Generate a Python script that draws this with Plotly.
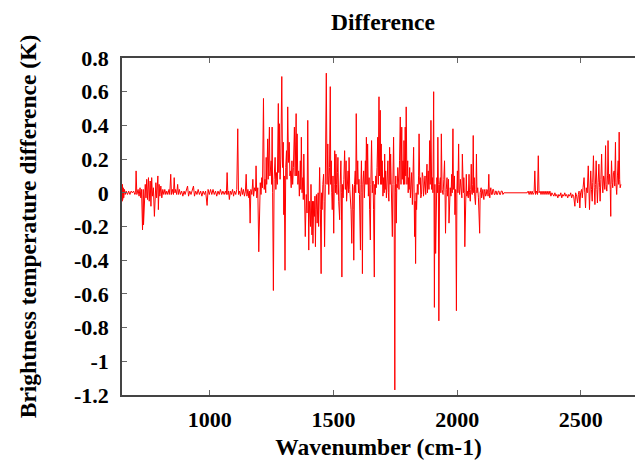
import plotly.graph_objects as go

# (wavenumber cm-1, brightness temperature difference K)
seg_longwave = [
    (645, 0.04), (646, -0.05), (647, 0.05), (648, -0.04), (650, 0.03), (652, -0.03), (655, 0.02),
    (658, -0.01), (662, 0.01), (667, -0.01), (672, 0.01), (677, -0.01), (682, 0.01), (687, 0.0),
    (692, 0.01), (697, -0.01), (700, 0.0), (702, 0.13), (705, -0.01), (710, 0.02), (714, -0.02),
    (718, 0.03), (721, -0.03), (724, 0.02), (728, -0.22), (731, 0.02), (732, -0.19), (736, 0.03),
    (739, 0.05), (742, -0.03), (745, 0.08), (748, -0.04), (752, 0.09), (755, -0.05), (759, 0.07),
    (762, -0.08), (765, 0.09), (768, -0.02), (772, 0.03), (776, -0.14), (779, 0.03), (782, 0.06),
    (785, -0.03), (790, 0.10), (792, -0.10), (795, 0.05), (798, -0.02), (802, 0.04), (806, -0.03),
    (810, 0.02), (814, -0.01), (818, 0.02), (822, -0.01), (826, 0.01), (830, -0.01), (835, 0.02),
    (838, -0.01), (842, 0.11), (845, -0.01), (849, 0.02), (853, -0.01), (856, 0.09), (859, 0.0),
    (862, 0.02), (866, -0.01), (870, 0.05), (873, -0.01), (877, 0.02), (881, -0.01), (886, 0.01),
    (891, -0.02), (896, 0.01), (900, -0.01), (905, 0.01), (910, 0.04), (914, -0.02), (919, 0.01),
    (924, -0.01), (929, 0.01), (934, 0.04), (938, -0.02), (943, 0.01), (948, -0.01), (953, 0.02),
    (958, -0.01), (963, 0.01), (968, -0.02), (973, 0.01), (978, -0.01), (983, 0.01), (989, -0.075),
    (993, 0.02), (998, -0.01), (1003, 0.02), (1008, -0.01), (1013, 0.02), (1018, -0.01),
    (1023, 0.01), (1028, -0.02), (1033, 0.01), (1038, -0.01), (1043, 0.02), (1048, -0.01),
    (1053, 0.01), (1058, -0.01), (1063, 0.01), (1067, -0.01), (1070, 0.12), (1073, -0.01),
    (1076, 0.01), (1079, -0.04), (1083, 0.01), (1087, -0.01), (1092, 0.02), (1096, -0.02),
    (1100, 0.01), (1105, -0.01), (1109, 0.02), (1113, 0.38), (1116, -0.01), (1120, 0.01),
    (1124, -0.02), (1128, 0.03), (1132, -0.01), (1136, 0.02), (1140, -0.02), (1144, 0.01),
    (1147, 0.11), (1150, -0.02), (1154, 0.02), (1158, -0.03), (1160, 0.01), (1163, -0.18),
    (1166, 0.02), (1170, -0.01), (1174, 0.08), (1177, -0.02), (1181, 0.03), (1185, 0.01),
]

seg_ozone_water = [
    (1187, 0.16), (1190, -0.03), (1194, 0.03), (1198, -0.35), (1201, 0.02), (1204, 0.06),
    (1207, -0.01), (1210, 0.09), (1213, 0.03), (1217, 0.56), (1220, 0.02), (1223, 0.08),
    (1226, 0.0), (1228, 0.21), (1230, 0.05), (1234, 0.32), (1236, 0.08), (1241, 0.39),
    (1243, 0.10), (1248, 0.19), (1250, 0.05), (1252, 0.39), (1254, 0.0), (1257, -0.58),
    (1260, 0.08), (1264, 0.21), (1267, 0.02), (1270, 0.12), (1273, 0.05), (1277, 0.53),
    (1279, 0.12), (1281, 0.41), (1284, 0.08), (1287, 0.20), (1291, 0.69), (1294, 0.15),
    (1297, 0.30), (1299, -0.13), (1301, 0.10), (1304, -0.46), (1307, 0.15), (1310, 0.25),
    (1312, 0.08), (1315, 0.51), (1318, 0.18), (1321, 0.30), (1324, 0.10), (1326, 0.13),
    (1329, 0.03), (1332, 0.19), (1335, 0.05), (1338, 0.15), (1342, 0.39), (1345, 0.10),
    (1349, 0.47), (1351, 0.10), (1353, 0.35), (1356, 0.05), (1359, 0.13), (1362, -0.02),
    (1366, 0.19), (1368, 0.02), (1370, 0.33), (1373, 0.0), (1376, 0.09), (1378, -0.04),
    (1380, 0.23), (1384, -0.07), (1386, -0.26), (1390, -0.01), (1393, -0.12), (1396, 0.43),
    (1400, -0.34), (1402, -0.05), (1404, -0.10), (1407, -0.2), (1409, 0.05), (1413, -0.25),
    (1415, -0.05), (1417, -0.30), (1420, -0.05), (1423, -0.14), (1425, -0.02), (1427, -0.32),
    (1429, -0.1), (1431, -0.01), (1434, -0.18), (1436, -0.10), (1438, 0.0), (1440, -0.20),
    (1444, 0.15), (1447, -0.1), (1450, -0.48), (1452, 0.0), (1454, -0.10), (1457, 0.05),
    (1460, 0.11), (1462, -0.05), (1464, -0.32), (1467, 0.05), (1471, 0.71), (1474, 0.05),
    (1477, 0.29), (1479, 0.1), (1481, -0.01), (1484, 0.15), (1487, 0.63), (1489, 0.05),
    (1491, 0.19), (1493, 0.0), (1495, -0.10), (1498, 0.1), (1501, -0.24), (1503, 0.05),
    (1505, 0.25), (1508, 0.0), (1510, 0.23), (1512, 0.05), (1514, -0.01), (1516, 0.12),
    (1518, 0.21), (1521, -0.05), (1525, -0.16), (1527, 0.05), (1530, 0.19), (1532, 0.0),
    (1534, -0.50), (1536, 0.05), (1539, -0.03), (1542, 0.08), (1545, 0.25), (1548, 0.02),
    (1551, 0.19), (1553, -0.05), (1555, 0.01), (1557, 0.1), (1559, 0.13), (1561, 0.0),
    (1563, 0.21), (1566, 0.02), (1568, -0.01), (1571, -0.1), (1574, -0.30), (1577, 0.05),
    (1579, 0.03), (1580, -0.1), (1582, -0.40), (1585, 0.05), (1588, 0.13), (1590, 0.0),
    (1592, 0.47), (1595, 0.05), (1598, 0.19), (1601, 0.0), (1603, 0.08), (1605, -0.01),
    (1609, -0.34), (1611, 0.05), (1613, 0.19), (1615, 0.0), (1617, -0.48), (1619, 0.05),
    (1622, 0.13), (1625, -0.03), (1629, 0.19), (1631, 0.05), (1633, 0.33), (1636, 0.05),
    (1638, 0.29), (1641, -0.02), (1644, 0.09), (1646, -0.1), (1649, -0.28), (1651, 0.05),
    (1654, 0.31), (1657, 0.0), (1660, 0.07), (1662, -0.1), (1665, -0.50), (1667, 0.05),
    (1669, -0.01), (1671, 0.1), (1673, 0.03), (1676, 0.15), (1679, 0.33), (1681, 0.05),
    (1684, 0.57), (1686, 0.1), (1689, 0.49), (1691, 0.05), (1693, 0.29), (1695, 0.05),
    (1697, 0.19), (1700, -0.02), (1703, 0.09), (1705, 0.0), (1707, 0.23), (1709, 0.02),
    (1711, 0.13), (1714, -0.03), (1716, 0.03), (1718, 0.1), (1720, 0.19), (1722, 0.0),
    (1724, -0.05), (1727, 0.27), (1729, 0.05), (1731, 0.23), (1734, 0.0), (1736, -0.1),
    (1738, -0.26), (1740, 0.05), (1743, 0.33), (1745, 0.05), (1748, -1.17), (1750, 0.0),
    (1752, 0.1), (1754, -0.18), (1756, 0.05), (1758, 0.03), (1760, 0.15), (1762, 0.09),
    (1765, 0.02), (1767, 0.19), (1770, 0.45), (1773, 0.05), (1776, 0.39), (1778, 0.08),
    (1781, 0.19), (1783, 0.05), (1785, 0.31), (1788, 0.05), (1790, 0.39), (1792, 0.1),
    (1794, 0.51), (1797, 0.05), (1800, 0.19), (1802, 0.0), (1804, 0.09), (1806, 0.02),
    (1808, 0.15), (1811, -0.03), (1813, 0.03), (1816, 0.12), (1819, -0.07), (1821, 0.05),
    (1824, 0.27), (1826, 0.0), (1828, -0.26), (1830, -0.05), (1832, -0.42), (1834, 0.0),
    (1836, -0.10), (1839, 0.05), (1842, -0.01), (1844, 0.1), (1846, 0.35), (1849, 0.05),
    (1851, 0.09), (1853, -0.03), (1856, -0.01), (1859, 0.12), (1862, 0.09), (1864, -0.02),
    (1867, 0.03), (1870, 0.1), (1873, -0.01), (1875, 0.05), (1878, 0.17), (1880, 0.0),
    (1883, 0.13), (1886, 0.02), (1889, 0.31), (1891, 0.05), (1894, 0.43), (1897, 0.02),
    (1900, 0.09), (1902, 0.0), (1905, 0.60), (1908, -0.68), (1910, 0.05), (1913, -0.36),
    (1915, 0.02), (1918, 0.09), (1920, 0.0), (1922, 0.33), (1924, 0.05), (1926, -0.76),
    (1929, 0.05), (1932, 0.09), (1934, 0.0), (1936, 0.35), (1939, 0.02), (1943, -0.01),
    (1946, 0.08), (1949, 0.19), (1951, 0.0), (1953, -0.24), (1956, 0.02), (1959, 0.09),
    (1961, -0.02), (1963, 0.03), (1965, 0.08), (1967, -0.18), (1969, 0.02), (1972, 0.03),
    (1975, -0.02), (1978, 0.11), (1980, 0.0), (1983, 0.38), (1985, 0.02), (1987, 0.03),
    (1989, 0.1), (1991, -0.13), (1994, 0.02), (1997, -0.70), (1999, 0.02), (2001, 0.13),
    (2003, 0.0), (2006, 0.29), (2008, 0.02), (2010, -0.01), (2013, 0.08), (2017, 0.03),
    (2019, -0.03), (2021, 0.23), (2025, 0.0), (2027, 0.09), (2029, 0.0), (2031, -0.32),
    (2034, 0.02), (2037, 0.11), (2039, -0.02), (2041, 0.01), (2045, -0.03), (2048, 0.11),
    (2050, 0.0), (2053, -0.05), (2055, 0.02), (2057, 0.17), (2059, 0.0), (2061, -0.01),
    (2063, 0.05), (2065, 0.34), (2067, 0.0), (2069, 0.09), (2071, -0.02), (2074, -0.07),
    (2076, 0.02), (2078, 0.23), (2080, 0.0), (2083, 0.03), (2086, -0.03), (2088, -0.09),
    (2091, -0.24), (2093, 0.0), (2095, 0.01), (2097, 0.03), (2099, -0.03), (2101, 0.01),
    (2104, 0.02), (2106, -0.02), (2108, -0.04), (2110, 0.01), (2112, 0.02), (2115, -0.02),
    (2118, -0.01), (2120, 0.02), (2123, 0.01), (2125, -0.02), (2128, 0.11), (2130, 0.0),
    (2132, -0.03), (2134, 0.01), (2136, 0.03), (2139, -0.01), (2142, -0.01), (2144, 0.02),
    (2147, 0.02), (2150, -0.01), (2153, -0.01), (2155, 0.01), (2158, 0.01), (2160, -0.01),
    (2163, -0.01), (2166, 0.01), (2169, 0.01), (2172, -0.01), (2175, -0.01), (2178, 0.01),
    (2182, 0.01), (2185, -0.01), (2189, 0.0),
]

seg_shortwave = [
    (2283, 0.0), (2287, 0.01), (2291, -0.01), (2295, 0.01), (2299, -0.01), (2303, 0.01),
    (2307, -0.01), (2311, 0.0), (2314, 0.13), (2317, -0.01), (2321, 0.01), (2325, -0.01),
    (2328, 0.22), (2331, 0.0), (2335, 0.01), (2339, -0.01), (2343, 0.01), (2347, -0.01),
    (2351, 0.01), (2355, -0.01), (2359, 0.01), (2363, -0.01), (2367, 0.01), (2371, -0.01),
    (2375, 0.01), (2379, -0.02), (2383, 0.0), (2387, -0.01), (2391, -0.02), (2395, 0.0),
    (2399, -0.02), (2403, -0.01), (2407, -0.03), (2411, -0.01), (2415, -0.02), (2419, 0.0),
    (2423, -0.03), (2427, -0.01), (2431, -0.02), (2435, 0.0), (2439, -0.02), (2443, -0.01),
    (2447, -0.03), (2451, -0.01), (2455, -0.02), (2459, 0.0), (2463, -0.03), (2467, -0.01),
    (2471, -0.02), (2476, -0.08), (2479, 0.0), (2483, -0.02), (2487, -0.06), (2490, -0.01),
    (2493, 0.01), (2496, -0.09), (2499, 0.0), (2503, 0.02), (2506, -0.03), (2509, 0.03),
    (2513, 0.09), (2516, 0.0), (2519, -0.09), (2522, 0.03), (2526, 0.0), (2530, 0.16),
    (2532, 0.02), (2535, -0.10), (2538, 0.04), (2540, 0.13), (2543, 0.02), (2546, -0.05),
    (2548, 0.06), (2551, 0.22), (2554, 0.03), (2557, -0.07), (2559, 0.05), (2562, 0.19),
    (2565, 0.02), (2567, -0.06), (2570, 0.06), (2573, 0.17), (2576, 0.03), (2578, -0.05),
    (2581, 0.08), (2584, 0.23), (2587, 0.04), (2589, 0.0), (2592, 0.1), (2594, 0.09),
    (2597, 0.02), (2600, 0.28), (2602, 0.05), (2605, 0.01), (2608, 0.1), (2610, 0.31),
    (2613, 0.05), (2616, 0.11), (2619, 0.02), (2621, -0.14), (2622, 0.05), (2624, 0.19),
    (2627, 0.06), (2629, 0.03), (2632, 0.12), (2635, 0.13), (2637, 0.04), (2640, 0.30),
    (2642, 0.06), (2645, -0.01), (2648, 0.1), (2651, 0.19), (2653, 0.05), (2655, 0.36),
    (2657, 0.08), (2659, 0.03), (2662, 0.05),
]

x_tick_vals = [1000, 1500, 2000, 2500]
y_tick_vals = [0.8, 0.6, 0.4, 0.2, 0.0, -0.2, -0.4, -0.6, -0.8, -1.0, -1.2]
y_tick_text = ["0.8", "0.6", "0.4", "0.2", "0", "-0.2", "-0.4", "-0.6", "-0.8", "-1", "-1.2"]

points = seg_longwave + seg_ozone_water + seg_shortwave
wavenumber = [p[0] for p in points]
difference = [p[1] for p in points]

FONT = "Liberation Serif, Times New Roman, serif"

fig = go.Figure()
fig.add_trace(go.Scatter(
    x=wavenumber, y=difference, mode="lines",
    line=dict(color="#ff0000", width=1),
    showlegend=False, hoverinfo="skip",
))

fig.update_layout(
    width=635, height=467,
    margin=dict(l=122, r=0, t=58, b=72),
    paper_bgcolor="white", plot_bgcolor="white",
    font=dict(family=FONT, color="black", size=22, weight="bold"),
    title=dict(text="Difference", x=383 / 635, xanchor="center", y=1 - 22 / 467, yanchor="middle",
               font=dict(family=FONT, size=23.5, weight="bold")),
)

fig.update_xaxes(
    range=[645, 2719], tickvals=x_tick_vals, ticktext=[str(v) for v in x_tick_vals],
    showgrid=False, zeroline=False, showline=True, linecolor="#444", linewidth=1.5,
    mirror="ticks", ticks="inside", ticklen=5, tickcolor="#666", tickwidth=1,
    ticklabelstandoff=4, automargin=False,
    tickfont=dict(family=FONT, size=22, weight="bold"),
    title=dict(text="Wavenumber (cm-1)", standoff=7, font=dict(family=FONT, size=23.5, weight="bold")),
)
fig.update_yaxes(
    range=[-1.2, 0.8], tickvals=y_tick_vals, ticktext=y_tick_text,
    showgrid=False, zeroline=False, showline=True, linecolor="#444", linewidth=1.5,
    mirror=False, ticks="inside", ticklen=5, tickcolor="#666", tickwidth=1,
    ticklabelstandoff=7, automargin=False,
    tickfont=dict(family=FONT, size=22, weight="bold"),
    title=dict(text="Brightness temperature difference (K)", standoff=31,
               font=dict(family=FONT, size=23.5, weight="bold")),
)

fig.write_html("out.html", config={"displayModeBar": False},
               post_script="document.body.style.margin='0';")
